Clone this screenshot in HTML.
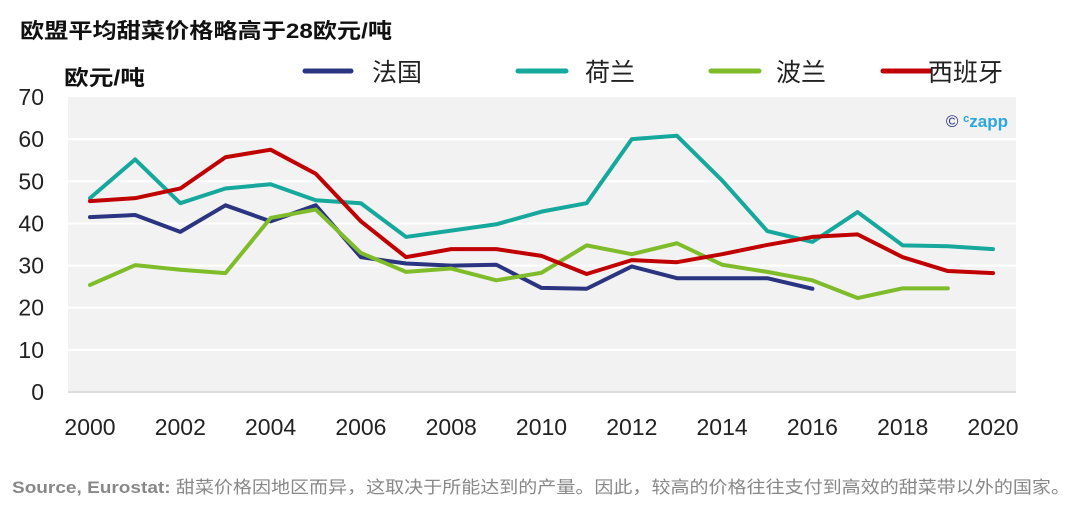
<!DOCTYPE html>
<html><head><meta charset="utf-8"><style>
body{margin:0;background:#fff;width:1074px;height:523px;overflow:hidden;font-family:"Liberation Sans","Noto Sans CJK SC",sans-serif}
</style></head><body>
<svg width="1074" height="523" xmlns="http://www.w3.org/2000/svg" font-family="'Liberation Sans','Noto Sans CJK SC',sans-serif">
<text x="20" y="38" font-size="21" font-weight="bold" fill="#111" textLength="372" lengthAdjust="spacingAndGlyphs">欧盟平均甜菜价格略高于28欧元/吨</text>
<text x="64" y="85" font-size="21" font-weight="bold" fill="#111" textLength="81" lengthAdjust="spacingAndGlyphs">欧元/吨</text>
<g stroke-width="5" stroke-linecap="round">
<line x1="305" y1="71" x2="351" y2="71" stroke="#2a3480"/>
<line x1="518" y1="71" x2="566" y2="71" stroke="#16a89c"/>
<line x1="711" y1="71" x2="759" y2="71" stroke="#7fbc2a"/>
<line x1="883" y1="71" x2="930" y2="71" stroke="#c00000"/>
</g>
<g font-size="25" fill="#222">
<text x="372" y="81">法国</text><text x="585" y="81">荷兰</text><text x="776" y="81">波兰</text><text x="928" y="81">西班牙</text>
</g>
<rect x="68" y="97" width="948" height="295" fill="#f2f2f2"/>
<g stroke="#fff" stroke-width="2" id="grid"></g>
<line x1="68" y1="392" x2="1016" y2="392" stroke="#ddd" stroke-width="2"/>
<g font-size="23" fill="#222" text-anchor="end" id="yl"></g>
<g font-size="23" fill="#222" text-anchor="middle" id="xl"></g>
<g fill="none" stroke-width="4" stroke-linejoin="round" stroke-linecap="round" id="series"></g>
<text x="1008" y="127" font-size="17" text-anchor="end" font-weight="bold" fill="#2ba6e0"><tspan fill="#2a3480" font-weight="normal">©</tspan> <tspan font-size="11" dy="-5">c</tspan><tspan dy="5">zapp</tspan></text>
<text x="12" y="493" font-size="17" fill="#888" textLength="1058" lengthAdjust="spacingAndGlyphs"><tspan font-weight="bold">Source, Eurostat:</tspan> 甜菜价格因地区而异，这取决于所能达到的产量。因此，较高的价格往往支付到高效的甜菜带以外的国家。</text>
</svg>
<script>
var ns="http://www.w3.org/2000/svg";
function el(p,t,a,txt){var e=document.createElementNS(ns,t);for(var k in a)e.setAttribute(k,a[k]);if(txt)e.textContent=txt;document.getElementById(p).appendChild(e);}
function Y(v){return 392-v*4.214}
function X(i){return 90+i*45.15}
for(var v=10;v<=60;v+=10)el("grid","line",{x1:68,x2:1016,y1:Y(v),y2:Y(v)});
for(var v=0;v<=70;v+=10)el("yl","text",{x:44,y:Y(v)+8},String(v));
for(var y=0;y<=20;y+=2)el("xl","text",{x:X(y),y:435},String(2000+y));
var S=[
["#2a3480",[41.5,42,38,44.3,40.5,44.3,32,30.5,30,30.2,24.7,24.5,29.8,27,27,27,24.5]],
["#16a89c",[46,55.2,44.8,48.3,49.3,45.5,44.8,36.8,38.3,39.8,42.8,44.8,60,60.8,50.2,38.2,35.6,42.7,34.8,34.6,33.9]],
["#7fbc2a",[25.4,30.1,29,28.2,41.3,43.3,33,28.5,29.3,26.5,28.3,34.8,32.7,35.3,30.2,28.5,26.5,22.3,24.6,24.6]],
["#c00000",[45.3,46,48.3,55.7,57.5,51.8,40.5,32,33.9,33.9,32.3,28,31.3,30.8,32.7,34.9,36.8,37.4,32,28.7,28.2]]];
S.forEach(function(s){el("series","polyline",{stroke:s[0],points:s[1].map(function(v,i){return X(i)+","+Y(v)}).join(" ")});});
</script>
</body></html>
